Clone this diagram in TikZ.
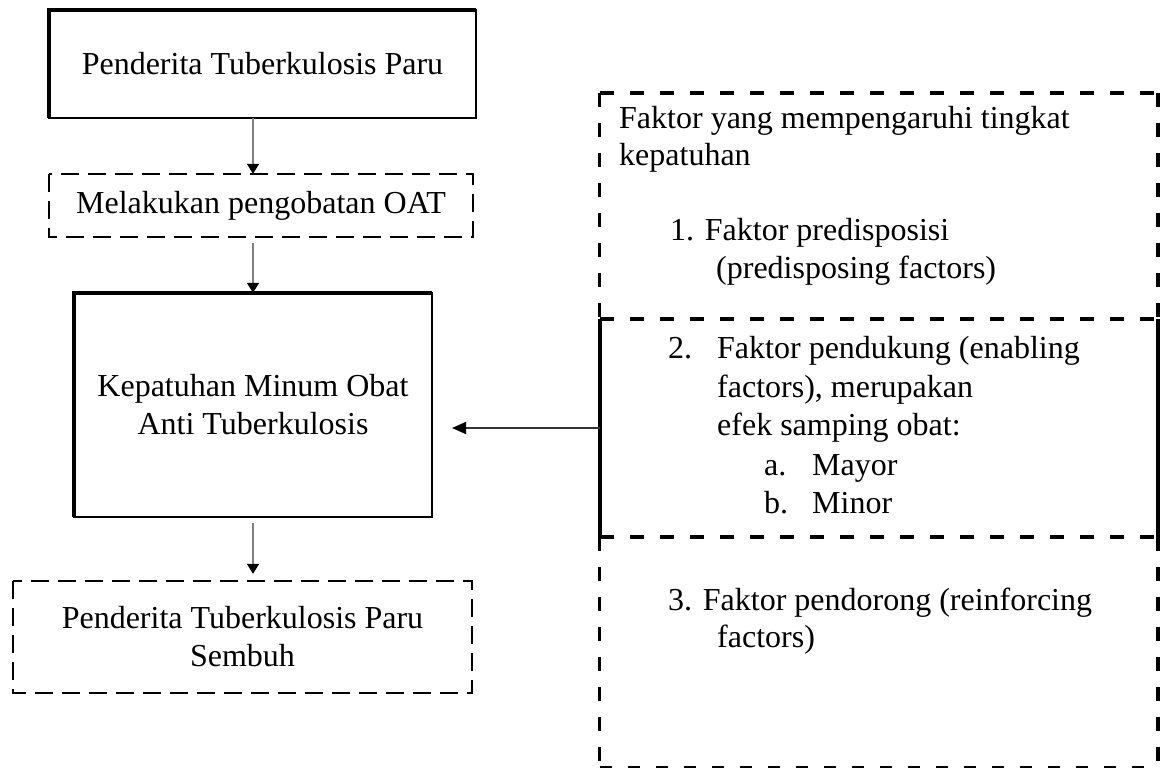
\documentclass[tikz,border=0pt]{standalone}
\usepackage{fontspec}
\setmainfont{Liberation Serif}
\usetikzlibrary{arrows.meta}
\begin{document}
\begin{tikzpicture}[x=1pt,y=-1pt,
  every node/.style={font=\fontsize{32}{38}\selectfont, inner sep=0pt},
  boxnode/.style={rectangle, align=center},
  soft/.style={line width=2pt},
  heavy/.style={line width=4pt},
  dashbox/.style={line width=2.4pt, dash pattern=on 18pt off 9pt},
  bigdash/.style={line width=4pt, dash pattern=on 14pt off 16pt},
  thindash/.style={line width=1.6pt, dash pattern=on 12pt off 16pt},
  varr/.style={draw=gray, line width=1.6pt, -{Triangle[length=10pt,width=12pt,color=black]}},
  harr/.style={draw=black!80, line width=1.5pt, -{Triangle[length=14pt,width=12pt,color=black]}},
  txt/.style={anchor=base west}
]
\useasboundingbox (0,0) rectangle (1168,769);
\fill[white] (0,0) rectangle (1168,769);

% left column
\node[boxnode, minimum width=427pt, minimum height=108pt] (b1) at (262.5,64) {Penderita Tuberkulosis Paru};
\draw[soft] (b1.north west) rectangle (b1.south east);
\draw[heavy] (b1.south west) -- (b1.north west) -- (b1.north east);

\node[boxnode, minimum width=424pt, minimum height=63pt] (b2) at (261,205.5) {Melakukan pengobatan OAT};
\draw[dashbox] (b2.north west) rectangle (b2.south east);

\node[boxnode, minimum width=358pt, minimum height=224pt] (b3) at (253,405) {Kepatuhan Minum Obat\\Anti Tuberkulosis};
\draw[soft] (b3.north west) rectangle (b3.south east);
\draw[heavy] (b3.south west) -- (b3.north west) -- (b3.north east);

\node[boxnode, minimum width=459pt, minimum height=112pt] (b4) at (242.5,637) {Penderita Tuberkulosis Paru\\Sembuh};
\draw[dashbox] (b4.north west) rectangle (b4.south east);

\draw[varr] (b1.south -| b3.north) -- (b2.north -| b3.north);
\draw[varr, shorten <=6pt] (b2.south -| b3.north) -- (b3.north);
\draw[varr, shorten <=6pt, shorten >=7pt] (b3.south) -- (b4.north -| b3.south);

% right column
\node[minimum width=558pt, minimum height=225pt] (s1) at (879,205.5) {};
\node[minimum width=558pt, minimum height=218pt] (s2) at (879,428) {};
\node[minimum width=558pt, minimum height=230pt] (s3) at (879,652) {};

\draw[bigdash] (s1.north west) -- (s1.north east);
\draw[bigdash, line width=3pt] (s1.north west) -- (s1.south west);
\draw[bigdash] (s1.north east) -- (s1.south east);
\draw[bigdash] (s2.north west) -- (s2.north east);
\draw[heavy] (s2.north west) -- (s2.south west);
\draw[heavy] (s2.north east) -- (s2.south east);
\draw[bigdash] (s2.south west) -- (s2.south east);
\draw[bigdash, line width=3pt] (s3.north west) -- (s3.south west);
\draw[bigdash] (s3.north east) -- (s3.south east);
\draw[thindash] (s3.south west) -- (s3.south east);

\coordinate (tip) at (452,428);
\draw[harr] (s2.west) -- (tip);

% texts
\node[txt] (t1) at (619,128) {Faktor yang mempengaruhi tingkat};
\node[txt] (t2) at (619,165) {kepatuhan};
\node[txt] (t3) at (670,240) {1. Faktor predisposisi};
\node[txt] (t4) at (716,278) {(predisposing factors)};
\node[txt] (n2) at (668,358) {2.};
\node[txt] (t5) at (717,358) {Faktor pendukung (enabling};
\node[txt] (t6) at (717,397) {factors), merupakan};
\node[txt] (t7) at (717,435) {efek samping obat:};
\node[txt] (na) at (764,475) {a.};
\node[txt] (t8) at (812,475) {Mayor};
\node[txt] (nb) at (764,513) {b.};
\node[txt] (t9) at (812,513) {Minor};
\node[txt] (t10) at (668,610) {3. Faktor pendorong (reinforcing};
\node[txt] (t11) at (717,647) {factors)};
\end{tikzpicture}
\end{document}
